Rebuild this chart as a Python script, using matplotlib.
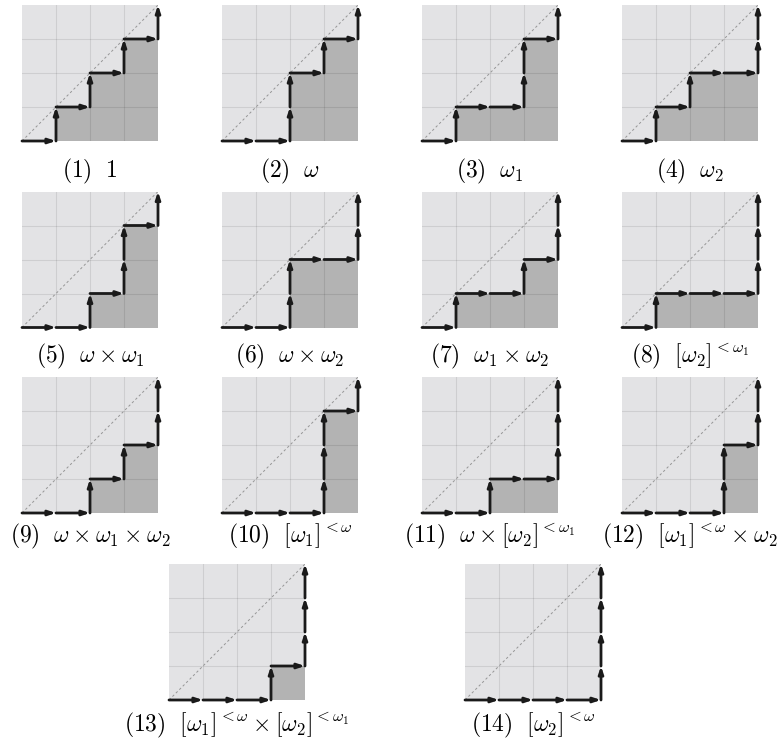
import numpy as np
import matplotlib
matplotlib.use("Agg")
import matplotlib.pyplot as plt

plt.rcParams['mathtext.fontset'] = 'cm'

# height of the path over each of the 4 columns
heights = [
    [0, 1, 2, 3],
    [0, 0, 2, 3],
    [0, 1, 1, 3],
    [0, 1, 2, 2],
    [0, 0, 1, 3],
    [0, 0, 2, 2],
    [0, 1, 1, 2],
    [0, 1, 1, 1],
    [0, 0, 1, 2],
    [0, 0, 0, 3],
    [0, 0, 1, 1],
    [0, 0, 0, 2],
    [0, 0, 0, 1],
    [0, 0, 0, 0],
]
labels = [
    r'$(1)\ \ 1$',
    r'$(2)\ \ \omega$',
    r'$(3)\ \ \omega_1$',
    r'$(4)\ \ \omega_2$',
    r'$(5)\ \ \omega\times\omega_1$',
    r'$(6)\ \ \omega\times\omega_2$',
    r'$(7)\ \ \omega_1\times\omega_2$',
    r'$(8)\ \ [\omega_2]^{{<}\omega_1}$',
    r'$(9)\ \ \omega\times\omega_1\times\omega_2$',
    r'$(10)\ \ [\omega_1]^{{<}\omega}$',
    r'$(11)\ \ \omega\times[\omega_2]^{{<}\omega_1}$',
    r'$(12)\ \ [\omega_1]^{{<}\omega}\times\omega_2$',
    r'$(13)\ \ [\omega_1]^{{<}\omega}\times[\omega_2]^{{<}\omega_1}$',
    r'$(14)\ \ [\omega_2]^{{<}\omega}$',
]

W, H = 781, 747
fig = plt.figure(figsize=(W / 100, H / 100), dpi=100)

# panel boxes in pixels (left, top), caption baselines per row
lefts = [22, 222, 422, 622]
tops = [5, 191.5, 377, 564]
baselines = [177, 362, 542, 731]
size = 136
boxes = []
for r in range(3):
    for c in range(4):
        boxes.append((lefts[c], tops[r], baselines[r]))
boxes.append((169, tops[3], baselines[3]))
boxes.append((465, tops[3], baselines[3]))

N = 4
for k, (h, lab) in enumerate(zip(heights, labels)):
    x0, y0, yb = boxes[k]
    ax = fig.add_axes([x0 / W, 1 - (y0 + size) / H, size / W, size / H])
    ax.set_xlim(0, N)
    ax.set_ylim(0, N)
    ax.set_facecolor('#e3e3e5')
    ax.bar(range(N), h, width=1, align='edge', color='#b3b3b3', zorder=1)
    for t in range(1, N):
        ax.axvline(t, color='black', alpha=0.09, lw=0.8, zorder=2)
        ax.axhline(t, color='black', alpha=0.09, lw=0.8, zorder=2)
    ax.plot([0, N], [0, N], color='#969696', lw=0.7, dashes=(2.5, 2.5), zorder=3)

    # unit steps of the lattice path
    steps = []
    for i in range(N):
        steps.append(((i, h[i]), (i + 1, h[i])))
        top = h[i + 1] if i < N - 1 else N
        for y in range(h[i], top):
            steps.append(((i + 1, y), (i + 1, y + 1)))
    for (a, b) in steps:
        ax.annotate('', xy=b, xytext=a,
                    arrowprops=dict(arrowstyle='-|>,head_length=0.42,head_width=0.14',
                                    color='#1a1a1a', lw=2.0,
                                    shrinkA=0, shrinkB=0),
                    annotation_clip=False, zorder=4)
    for s in ax.spines.values():
        s.set_visible(False)
    ax.set_xticks([])
    ax.set_yticks([])

    fig.text((x0 + size / 2) / W, 1 - yb / H, lab,
             ha='center', va='baseline', fontsize=17)

fig.savefig('out.png', dpi=100)
